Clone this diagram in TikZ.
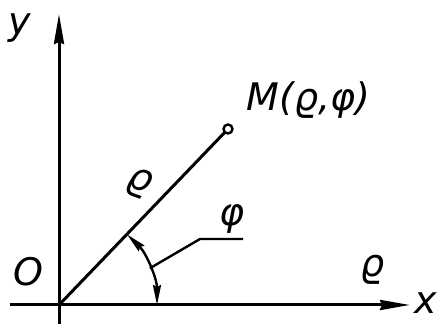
\documentclass[tikz,border=0pt]{standalone}
\usepackage{fontspec}
\setmainfont{DejaVu Sans}
\usetikzlibrary{arrows.meta}
\tikzset{
  ln/.style={line width=1.5pt},
  axis/.style={ln,-{Stealth[length=15pt,width=5pt,inset=1pt]}},
  arcarrow/.style={line width=1.2pt,{Stealth[length=10pt,width=4pt,inset=1pt]}-{Stealth[length=10pt,width=4pt,inset=1pt]}},
  lbl/.style={font=\fontsize{19}{22}\selectfont\itshape,inner sep=0pt}
}
\begin{document}
\begin{tikzpicture}[x=0.5pt,y=-0.5pt]
\useasboundingbox (0,0) rectangle (440,324);
\coordinate (O) at (59,305);
\coordinate (ybot) at (59,324);
\coordinate (ytop) at (59,14);
\coordinate (xleft) at (10,305);
\coordinate (xright) at (410,305);
\coordinate (M) at (228,129);
\draw[axis] (ybot) -- (ytop);
\draw[axis] (xleft) -- (xright);
\draw[ln] (O) -- (M);
\node[circle,draw,line width=1.2pt,fill=white,minimum size=4.5pt,inner sep=0pt] (Mc) at (M) {};
\draw[arcarrow] ([shift={(0:98)}]O) arc[start angle=0,end angle=-46,radius=98];
\coordinate (lead0) at ([shift={(-22:98)}]O);
\coordinate (lead1) at (200,239);
\coordinate (lead2) at (243,239);
\draw[line width=1.2pt] (lead0) -- (lead1) -- (lead2);
\node[lbl] (ylab) at (20,28) {y};
\node[lbl] (Olab) at (28,272) {O};
\node[lbl] (xlab) at (426,303) {x};
\node[lbl] (rhox) at (373,270) {ϱ};
\node[lbl,rotate=-20] (rhoray) at (139,183) {ϱ};
\node[lbl] (philab) at (232,219) {φ};
\node[lbl,anchor=west] (Mlab) at (246,100) {M(ϱ,φ)};
\end{tikzpicture}
\end{document}
